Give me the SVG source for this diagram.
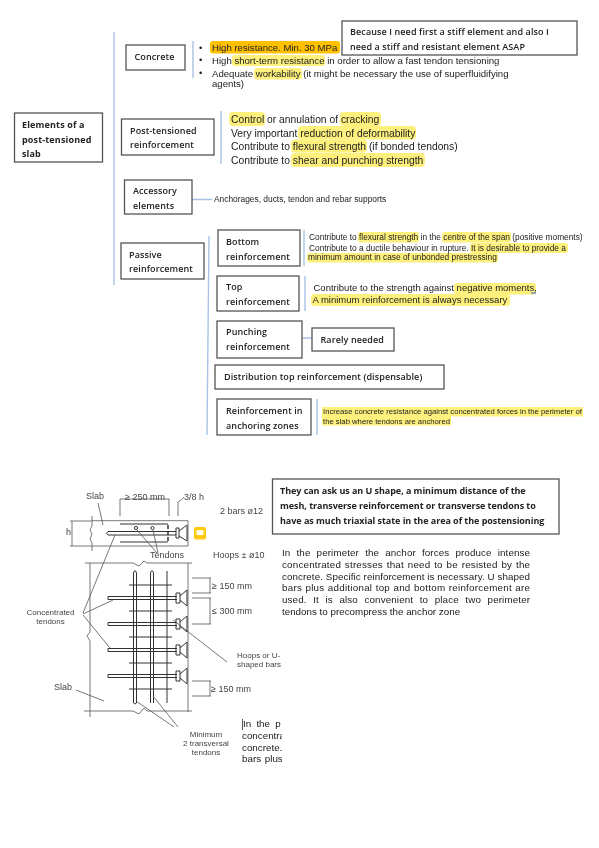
<svg xmlns="http://www.w3.org/2000/svg" width="599" height="848" viewBox="0 0 599 848">
<style>
.box{fill:#fff;stroke:#555;stroke-width:1.3}
.lb{font:600 9px "Open Sans",sans-serif;fill:#222;letter-spacing:.1px;filter:url(#bl)}
.b{font-weight:700;letter-spacing:.15px}
.t{font:10.5px "Liberation Sans",Arial,sans-serif;fill:#222}
.s{font:8.330px "Liberation Sans",Arial,sans-serif;fill:#222}
.d{font:9px "Liberation Sans",Arial,sans-serif;fill:#444}
.c{text-anchor:middle}
.y{fill:#fdf07c}
.o{fill:#ffc000}
.con{stroke:#a9c3e6;stroke-width:1.4;fill:none}
.k{stroke:#333;stroke-width:1;fill:none}
.k2{stroke:#555;stroke-width:.8;fill:none}
</style>
<defs>
<filter id="bl" x="-5%" y="-5%" width="110%" height="110%"><feGaussianBlur stdDeviation=".35"/></filter>
<clipPath id="cut"><rect x="240" y="715" width="42" height="52"/></clipPath>
</defs>

<g id="connectors">
<path class="con" d="M114 32V285M193 41V78M221 111V164M192 199.500H212M209 236L207 435M304 230V266M305 276V311M302 338H315M317 399V435"/>
</g>

<g id="highlights">
<rect class="o" x="210" y="41" width="130" height="12.500" rx="3"/>
<rect class="y" x="232" y="55" width="93" height="11" rx="3"/>
<rect class="y" x="254" y="68" width="48" height="11.500" rx="3"/>
<rect class="y" x="229" y="112" width="36" height="14" rx="4"/>
<rect class="y" x="340" y="112" width="41" height="14" rx="4"/>
<rect class="y" x="298" y="126" width="118" height="13.500" rx="4"/>
<rect class="y" x="291" y="139.500" width="76" height="13" rx="4"/>
<rect class="y" x="291" y="153" width="134" height="14" rx="4"/>
<rect class="y" x="358" y="232" width="61" height="10.500" rx="3"/>
<rect class="y" x="442" y="232" width="69" height="10.500" rx="3"/>
<rect class="y" x="470" y="243" width="98" height="10" rx="3"/>
<rect class="y" x="307" y="253" width="191" height="9.500" rx="3"/>
<rect class="y" x="454" y="283" width="82" height="11.500" rx="3"/>
<rect class="y" x="311" y="294" width="199" height="12" rx="3"/>
<rect class="y" x="322" y="407" width="261" height="9.500"/>
<rect class="y" x="322" y="416" width="129" height="9.500"/>
</g>

<g id="n-elements"><rect class="box" x="14.500" y="113" width="88" height="49"/><text class="lb b"><tspan x="22" y="128">Elements of a</tspan><tspan x="22" y="142.500">post-tensioned</tspan><tspan x="22" y="157">slab</tspan></text></g>
<g id="n-concrete"><rect class="box" x="126" y="45" width="59" height="25"/><text class="lb" x="134.500" y="60">Concrete</text></g>
<g id="n-post"><rect class="box" x="121.500" y="119" width="92.500" height="36"/><text class="lb"><tspan x="130" y="134">Post-tensioned</tspan><tspan x="130" y="148">reinforcement</tspan></text></g>
<g id="n-accessory"><rect class="box" x="124.500" y="180" width="67.500" height="34"/><text class="lb"><tspan x="133" y="194">Accessory</tspan><tspan x="133" y="209">elements</tspan></text></g>
<g id="n-passive"><rect class="box" x="121" y="243" width="83" height="36"/><text class="lb"><tspan x="129" y="258">Passive</tspan><tspan x="129" y="272">reinforcement</tspan></text></g>
<g id="n-bottom"><rect class="box" x="218" y="230" width="82" height="36"/><text class="lb"><tspan x="226" y="245">Bottom</tspan><tspan x="226" y="260">reinforcement</tspan></text></g>
<g id="n-top"><rect class="box" x="217" y="276" width="82" height="35"/><text class="lb"><tspan x="226" y="290">Top</tspan><tspan x="226" y="305">reinforcement</tspan></text></g>
<g id="n-punching"><rect class="box" x="217" y="321" width="85" height="37"/><text class="lb"><tspan x="226" y="335">Punching</tspan><tspan x="226" y="350">reinforcement</tspan></text></g>
<g id="n-rarely"><rect class="box" x="312" y="328" width="82" height="23"/><text class="lb" x="320.500" y="342.500">Rarely needed</text></g>
<g id="n-distribution"><rect class="box" x="215" y="365" width="229" height="24"/><text class="lb" x="224" y="380">Distribution top reinforcement (dispensable)</text></g>
<g id="n-anchoring"><rect class="box" x="217" y="399" width="94" height="36"/><text class="lb"><tspan x="226" y="414">Reinforcement in</tspan><tspan x="226" y="429">anchoring zones</tspan></text></g>
<g id="n-note1"><rect class="box" x="342" y="21" width="235" height="34"/><text class="lb"><tspan x="350" y="35">Because I need first a stiff element and also I</tspan><tspan x="350" y="50">need a stiff and resistant element ASAP</tspan></text></g>
<g id="n-note2"><rect class="box" x="272.500" y="479" width="286.500" height="55"/><text class="lb" style="font-weight:700;letter-spacing:-.05px"><tspan x="280" y="494">They can ask us an U shape, a minimum distance of the</tspan><tspan x="280" y="509">mesh, transverse reinforcement or transverse tendons to</tspan><tspan x="280" y="524">have as much triaxial state in the area of the postensioning</tspan></text></g>

<g id="texts" filter="url(#bl)">
<text class="s" style="font-size:9.500px"><tspan x="199" y="51">•</tspan><tspan x="199" y="63">•</tspan><tspan x="199" y="76">•</tspan></text>
<text class="t" style="font-size:9.600px"><tspan x="212" y="51">High resistance. Min. 30 MPa</tspan><tspan x="212" y="63.500">High short-term resistance in order to allow a fast tendon tensioning</tspan><tspan x="212" y="76.500">Adequate workability (it might be necessary the use of superfluidifying</tspan><tspan x="212" y="87">agents)</tspan></text>
<text class="t" style="font-size:10.300px"><tspan x="231" y="123">Control or annulation of cracking</tspan><tspan x="231" y="136.500">Very important reduction of deformability</tspan><tspan x="231" y="150">Contribute to flexural strength (if bonded tendons)</tspan><tspan x="231" y="164">Contribute to shear and punching strength</tspan></text>
<text class="s" x="214" y="202" style="font-size:8.400px" font-style="italic">Anchorages, ducts, tendon and rebar supports</text>
<text class="s"><tspan x="309" y="240">Contribute to flexural strength in the centre of the span (positive moments)</tspan><tspan x="309" y="251">Contribute to a ductile behaviour in rupture. It is desirable to provide a</tspan><tspan x="308" y="260">minimum amount in case of unbonded prestressing</tspan></text>
<text class="t" style="font-size:9.500px"><tspan x="313.500" y="291">Contribute to the strength against negative moments,</tspan><tspan x="312.500" y="303">A minimum reinforcement is always necessary</tspan></text>
<path d="M531 293H536" stroke="#2b5fd0" fill="none"/>
<text class="s" style="font-size:7.700px"><tspan x="323" y="414">Increase concrete resistance against concentrated forces in the perimeter of</tspan><tspan x="323" y="424">the slab where tendons are anchored</tspan></text>

<text class="t" style="font-size:9.800px"><tspan x="282" y="556" textLength="248" word-spacing="3.300">In the perimeter the anchor forces produce intense</tspan><tspan x="282" y="568" textLength="248" word-spacing=".9">concentrated stresses that need to be resisted by the</tspan><tspan x="282" y="580" textLength="248">concrete. Specific reinforcement is necessary. U shaped</tspan><tspan x="282" y="591" textLength="248" word-spacing=".4">bars plus additional top and bottom reinforcement are</tspan><tspan x="282" y="603" textLength="248" word-spacing="3.700">used. It is also convenient to place two perimeter</tspan><tspan x="282" y="615">tendons to precompress the anchor zone</tspan></text>
<path d="M242.500 719V730" stroke="#555" fill="none"/>
<g clip-path="url(#cut)"><text class="t" style="font-size:9.800px"><tspan x="243" y="727" word-spacing="2.500">In the p</tspan><tspan x="242" y="739">concentra</tspan><tspan x="242" y="751">concrete.</tspan><tspan x="242" y="762" word-spacing="1">bars plus</tspan></text></g>
</g>

<g id="drawing" filter="url(#bl)">
<path class="k2" d="M92 520.700H188V546H92M92 516L92 526L90 530L92 534L90 539L92 543V551M70 521H92M70 546H92M72 521V546"/>
<path class="k2" d="M120 516V499H169V516M178 516V502M178 502Q182 500 184 497M98 503L103 525"/>
<path class="k" d="M120 524H168M120 542H168M108 531.500H176M108 535H176M108 531.500Q105 533 108 535"/>
<path d="M168 525V542" stroke="#222" stroke-width="1.400" stroke-dasharray="4 2" fill="none"/>
<circle class="k" cx="136" cy="528" r="1.600"/><circle class="k" cx="152.500" cy="528" r="1.600"/>
<path class="k" d="M176 528H179V538H176ZM179 531L187 525V541L179 536"/>
<path class="k2" d="M137 530L157 553M153 530L158 553"/>
<path class="k2" d="M85 563H133L139 566L144 561L147 563H192M188 563V712M90 563V632L87 636L90 641V717M84 711H133L139 714L144 708L147 711H192"/>
<path class="k" d="M133.500 703V573Q135 568 136.500 573V703Q135 705 133.500 703M150.500 703V573Q152 568 153.500 573V703M167 571V703"/>
<path class="k" d="M129 585H172M129 611H172M129 637H172M129 663H172M129 689H172"/>
<path class="k" d="M108 596.500H177M108 599.500H177M108 622.500H177M108 625.500H177M108 648.500H177M108 651.500H177M108 674.500H177M108 677.500H177M108 596.500V599.500M108 622.500V625.500M108 648.500V651.500M108 674.500V677.500"/>
<path class="k" d="M176 593H180V603H176ZM180 596L187 590V606L180 600M176 619H180V629H176ZM180 622L187 616V632L180 626M176 645H180V655H176ZM180 648L187 642V658L180 652M176 671H180V681H176ZM180 674L187 668V684L180 678"/>
<path class="k2" d="M83 613L115 535M83 614L113 600M83 615L110 648M173 620L227 662M76 690L104 701M136 701L174 727M153 696L178 727M192 578H211M192 593H211M192 598H211M192 624H211M210 578V593M210 598V624M192 681H211M192 696H211M210 681V696"/>
<rect x="194" y="527" width="12" height="12.500" rx="2" fill="#ffc90e"/><rect x="196.500" y="530" width="7" height="5" rx="1" fill="#fff"/>
<text class="d"><tspan x="86" y="499">Slab</tspan><tspan x="125" y="500">≥ 250  mm</tspan><tspan x="184" y="500">3/8  h</tspan><tspan x="66" y="535">h</tspan><tspan x="220" y="514">2 bars ø12</tspan><tspan x="150" y="558">Tendons</tspan><tspan x="213" y="558">Hoops ± ø10</tspan><tspan x="212" y="589">≥ 150  mm</tspan><tspan x="212" y="614">≤ 300  mm</tspan><tspan x="211" y="692">≥ 150  mm</tspan><tspan x="54" y="690">Slab</tspan></text>
<text class="d c" style="font-size:8px"><tspan x="50.500" y="615">Concentrated</tspan><tspan x="50.500" y="624">tendons</tspan><tspan x="206" y="737">Minimum</tspan><tspan x="206" y="746">2 transversal</tspan><tspan x="206" y="755">tendons</tspan></text>
<text class="d" style="font-size:8px"><tspan x="237" y="658">Hoops or U-</tspan><tspan x="237" y="667">shaped bars</tspan></text>
</g>
</svg>
